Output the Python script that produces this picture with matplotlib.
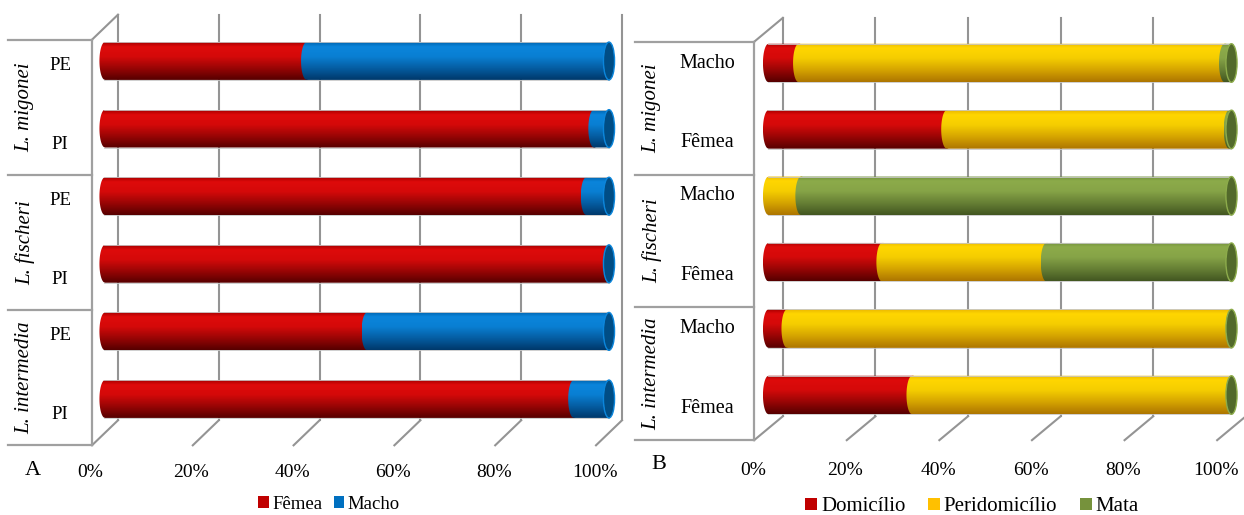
import numpy as np
import matplotlib.pyplot as plt
from matplotlib.patches import Polygon, Ellipse, Patch

plt.rcParams['font.family'] = ['Liberation Serif', 'DejaVu Serif']

# Panel A: sex of the specimens per site, % (bars listed top to bottom)
species = ['L. migonei', 'L. fischeri', 'L. intermedia']
sites = ['PE', 'PI', 'PE', 'PI', 'PE', 'PI']
femea_a = [40, 97, 95.5, 100, 52, 93]
macho_a = [60, 3, 4.5, 0, 48, 7]

# Panel B: capture environment per sex, %
sexes = ['Macho', 'Fêmea', 'Macho', 'Fêmea', 'Macho', 'Fêmea']
domicilio = [6.5, 38.5, 0, 24.5, 4, 31]
peridomicilio = [92, 61, 7, 35.5, 96, 69]
mata = [1.5, 0.5, 93, 40, 0, 0]

pct_ticks = [0, 20, 40, 60, 80, 100]

# cylinder shading: top rim, highlight, underside, end cap, legend swatch
RED = [(0.66, 0.0, 0.0), (0.87, 0.04, 0.04), (0.34, 0.0, 0.0), (0.55, 0.0, 0.0), '#c00000']
BLUE = [(0.0, 0.40, 0.70), (0.04, 0.52, 0.86), (0.0, 0.22, 0.42), (0.0, 0.30, 0.52), '#0070c0']
YELLOW = [(0.92, 0.72, 0.0), (1.0, 0.84, 0.0), (0.68, 0.46, 0.0), (0.80, 0.60, 0.0), '#ffc000']
GREEN = [(0.44, 0.56, 0.23), (0.55, 0.67, 0.29), (0.26, 0.34, 0.13), (0.32, 0.41, 0.17), '#76923c']

GRID = '#949494'
TABLE = '#a0a0a0'


def body_gradient(pal, n=80):
    top, light, dark = [np.array(c) for c in pal[:3]]
    t = np.linspace(0, 1, n)
    stops = [0.0, 0.12, 0.38, 0.68, 1.0]
    cols = [top, light, light * 0.96, (light + dark) / 2, dark]
    rgb = np.stack([np.interp(t, stops, [c[k] for c in cols]) for k in range(3)], axis=1)
    return rgb[:, None, :]


def cylinder(ax, y, values, palettes, e, r):
    t = np.linspace(-1, 1, 61)
    bulge = e * np.sqrt(1 - t ** 2)
    start = 0.0
    nonzero = [i for i, v in enumerate(values) if v > 0]
    for i, (v, pal) in enumerate(zip(values, palettes)):
        if v <= 0:
            continue
        end = start + v
        over = 0.4 if i != nonzero[-1] else 0.0
        xs = np.concatenate([start - bulge, end + over - bulge[::-1]])
        ys = np.concatenate([y + r * t, y + r * t[::-1]])
        clip = Polygon(np.column_stack([xs, ys]), closed=True, fc='none', ec='none')
        ax.add_patch(clip)
        im = ax.imshow(body_gradient(pal), extent=(start - e, end + over, y + r, y - r),
                       aspect='auto', interpolation='bilinear', zorder=3 + 0.01 * i)
        im.set_clip_path(clip)
        start = end
    # faint rim along the top and bottom of the tube
    ax.plot([-0.2, start], [y - r, y - r], color='#c8c8c8', lw=0.6, zorder=3.5)
    ax.plot([-0.2, start], [y + r, y + r], color='#c8c8c8', lw=0.6, zorder=3.5)
    pal = palettes[-1]
    ax.add_patch(Ellipse((start, y), 2 * e, 2 * r, fc=pal[3], ec=pal[1], lw=1.0, zorder=4))


def frame(ax, n, dx, dy, table_left):
    top, bot = -0.5, n - 0.5
    for g in pct_ticks:
        ax.plot([g + dx, g + dx], [top - dy, bot - dy], color=GRID, lw=1.5, zorder=1)
        ax.plot([g + dx, g - dx], [bot - dy, bot + dy], color=GRID, lw=1.5, zorder=1)
    ax.plot([-dx, dx], [top + dy, top - dy], color=GRID, lw=1.5, zorder=1)
    ax.plot([-dx, -dx], [top + dy, bot + dy], color=TABLE, lw=1.6, zorder=1)
    for k in [top, top + 2, top + 4, bot]:
        ax.plot([table_left, -dx], [k + dy, k + dy], color=TABLE, lw=1.6, zorder=1)


def panel(ax, rows, series, palettes, labels, dx, dy, e, r, table_left,
          sp_x, row_x, row_off, row_fs, tick_y, letter, letter_xy, legend_xy, legend_fs, colsp):
    n = len(rows)
    frame(ax, n, dx, dy, table_left)
    for i in range(n):
        cylinder(ax, i, [s[i] for s in series], palettes, e, r)
        ax.text(row_x, i + row_off[i % 2], rows[i], ha='center', va='center', fontsize=row_fs)
    for j, sp in enumerate(species):
        ax.text(sp_x, 2 * j + 0.5 + dy, sp, rotation=90, ha='center', va='center',
                fontsize=15, style='italic')
    for g in pct_ticks:
        ax.text(g - dx - 0.3, tick_y, f'{g}%', ha='center', va='center', fontsize=14)
    ax.text(letter_xy[0], letter_xy[1], letter, ha='center', va='center', fontsize=16)
    handles = [Patch(fc=p[4], ec='none') for p in palettes]
    ax.legend(handles, labels, loc='center', bbox_to_anchor=legend_xy,
              bbox_transform=ax.figure.transFigure, ncol=len(labels), frameon=False,
              fontsize=legend_fs, handlelength=0.55, handleheight=0.55,
              handletextpad=0.2, columnspacing=colsp, borderpad=0)
    ax.axis('off')


fig = plt.figure(figsize=(12.44, 5.15), dpi=100)

ax_a = fig.add_axes([0, 0, 628 / 1244, 1])
panel(ax_a, sites, [femea_a, macho_a], [RED, BLUE], ['Fêmea', 'Macho'],
      dx=2.58, dy=0.185, e=1.1, r=0.28, table_left=-19.2,
      sp_x=-15.9, row_x=-8.9, row_off=[0.06, 0.23], row_fs=13.5, tick_y=6.08,
      letter='A', letter_xy=(-14.3, 6.06), legend_xy=(0.2645, 0.021), legend_fs=13.5, colsp=0.6)
ax_a.set_xlim(-20.83, 103.77)
ax_a.set_ylim(6.716, -0.902)

ax_b = fig.add_axes([628 / 1244, 0, 616 / 1244, 1])
panel(ax_b, sexes, [domicilio, peridomicilio, mata], [RED, YELLOW, GREEN],
      ['Domicílio', 'Peridomicílio', 'Mata'],
      dx=3.1, dy=0.18, e=1.2, r=0.29, table_left=-28.8,
      sp_x=-25.2, row_x=-13.3, row_off=[0.0, 0.2], row_fs=14.5, tick_y=6.13,
      letter='B', letter_xy=(-23.8, 6.05), legend_xy=(0.7815, 0.016), legend_fs=15, colsp=1.1)
ax_b.set_xlim(-30.35, 102.7)
ax_b.set_ylim(6.807, -0.949)

fig.savefig('out.png', dpi=100)
